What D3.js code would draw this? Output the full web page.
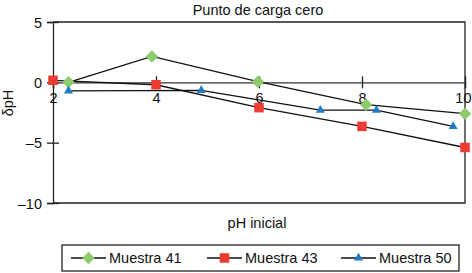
<!DOCTYPE html>
<html><head><meta charset="utf-8">
<script src="https://cdn.jsdelivr.net/npm/d3@7"></script>
<style>body{margin:0;background:#fff}svg{display:block;font-family:"Liberation Sans",Arial,sans-serif}</style>
</head><body><svg id="c" width="472" height="273"></svg>
<script>
const title = "Punto de carga cero";
const xTicks = [2, 4, 6, 8, 10];
const yTicks = [5, 0, -5, -10];
const seriesNames = ["Muestra 41", "Muestra 43", "Muestra 50"];
const seriesColors = ["#8dcb6e", "#ec3b30", "#1f7cc5"];
const seriesShapes = ["diamond", "square", "triangle"];
const m41x = [2.3, 3.92, 5.98, 8.08, 10];
const m41y = [0, 2.15, 0.05, -1.85, -2.6];
const m43x = [2, 4, 6, 8, 10];
const m43y = [0.17, -0.2, -2.1, -3.65, -5.4];
const m50x = [2.3, 4.88, 7.19, 8.28, 9.77];
const m50y = [-0.7, -0.66, -2.3, -2.3, -3.65];
const seriesX = [m41x, m43x, m50x];
const seriesY = [m41y, m43y, m50y];

const svg = d3.select("#c");
const L = 53, R = 465, T = 22, B = 203;
const FS = 14.5;
const x = d3.scaleLinear().domain([2, 10]).range([L, R]);
const y = d3.scaleLinear().domain([-10, 5]).range([B, T]);

svg.append("path").attr("d", `M${L},${T}H${R}V${B}H${L}`).attr("fill","none").attr("stroke","#222").attr("stroke-width",1.3);

const yAxis = svg.append("g").attr("transform", `translate(${L},0)`)
  .call(d3.axisLeft(y).tickValues(yTicks).tickSize(6).tickFormat(d => d < 0 ? "\u2013" + Math.abs(d) : d));
yAxis.select(".domain").attr("stroke","#222").attr("stroke-width",1.3);
yAxis.selectAll(".tick line").attr("stroke","#222").attr("stroke-width",1.3).attr("x1",-6).attr("x2",6);
yAxis.selectAll(".tick text").attr("x",-11).attr("dy","0.36em").attr("font-size",FS).attr("fill","#111").attr("font-family","Liberation Sans, Arial, sans-serif");

const xAxis = svg.append("g").attr("transform", `translate(0,${y(0)})`)
  .call(d3.axisBottom(x).tickValues(xTicks).tickSize(6));
xAxis.select(".domain").attr("stroke","#333").attr("stroke-width",1.3);
xAxis.selectAll(".tick line").attr("stroke","#222").attr("stroke-width",1.3).attr("y1",-6).attr("y2",6);
xAxis.selectAll(".tick text").attr("y",10).attr("dy","0.71em").attr("font-size",FS).attr("fill","#111").attr("font-family","Liberation Sans, Arial, sans-serif")
  .filter(d => d === 10).attr("text-anchor","end").attr("x", 471 - R);

const shapeSym = {diamond: d3.symbolDiamond2, square: d3.symbolSquare2, triangle: d3.symbolTriangle2};
const shapeSize = {diamond: 100, square: 115, triangle: 58};
function drawMarker(g, shape, color, cx, cy) {
  g.append("path").attr("d", d3.symbol().type(shapeSym[shape]).size(shapeSize[shape])())
    .attr("transform", `translate(${cx},${cy})`)
    .attr("fill", color);
}

const line = d3.line().x(d => x(d[0])).y(d => y(d[1]));
seriesNames.forEach((n, i) => {
  const pts = seriesX[i].map((v, j) => [v, seriesY[i][j]]);
  svg.append("path").attr("d", line(pts)).attr("fill","none").attr("stroke","#111").attr("stroke-width",1.3);
});
seriesNames.forEach((n, i) => {
  const g = svg.append("g");
  seriesX[i].forEach((v, j) => drawMarker(g, seriesShapes[i], seriesColors[i], x(v), y(seriesY[i][j])));
});

svg.append("text").attr("x", 258).attr("y", 15).attr("text-anchor","middle").attr("font-size",FS).attr("fill","#111").text(title);
svg.append("text").attr("x", 257).attr("y", 228).attr("text-anchor","middle").attr("font-size",FS).attr("fill","#111").text("pH inicial");
svg.append("text").attr("transform","translate(13,103) rotate(-90)").attr("text-anchor","middle").attr("font-size",FS).attr("fill","#111").text("\u03b4pH");

svg.append("rect").attr("x",62).attr("y",245).attr("width",397).attr("height",26).attr("fill","none").attr("stroke","#222").attr("stroke-width",1.3);
const legX = [71, 207, 341];
seriesNames.forEach((n, i) => {
  const g = svg.append("g");
  g.append("line").attr("x1",legX[i]).attr("x2",legX[i]+35).attr("y1",258).attr("y2",258).attr("stroke","#111").attr("stroke-width",1.3);
  drawMarker(g, seriesShapes[i], seriesColors[i], legX[i]+17.5, 258);
  g.append("text").attr("x",legX[i]+38).attr("y",263).attr("font-size",FS).attr("fill","#111").text(n);
});
</script></body></html>
